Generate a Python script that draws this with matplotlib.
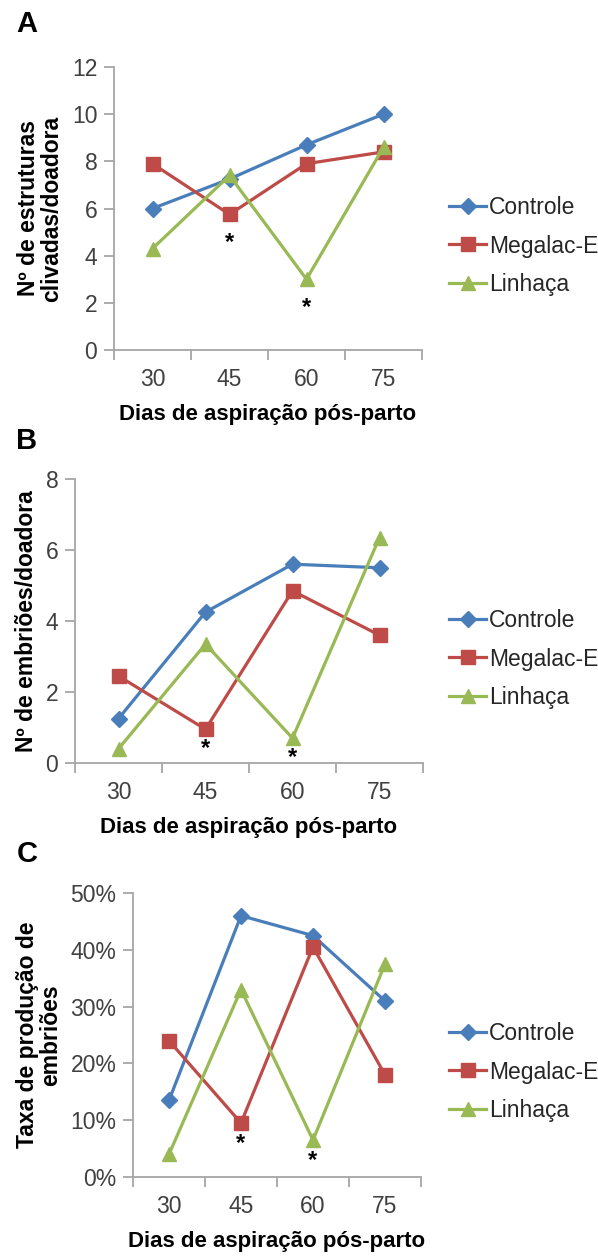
import matplotlib
matplotlib.use("Agg")
import matplotlib.pyplot as plt
from matplotlib.lines import Line2D
from matplotlib.ticker import FuncFormatter

plt.rcParams['font.family'] = ['Liberation Sans', 'DejaVu Sans']

dias = ["30", "45", "60", "75"]
grupos = ["Controle", "Megalac-E", "Linhaça"]
cores = ["#4A7EBB", "#BE4B48", "#98B954"]
marcadores = ["D", "s", "^"]
tam_marc = [8, 10, 10]

# A - estruturas clivadas por doadora
clivadas_controle = [6.0, 7.25, 8.7, 10.0]
clivadas_megalac = [7.9, 5.75, 7.9, 8.4]
clivadas_linhaca = [4.3, 7.4, 3.0, 8.6]

# B - embriões por doadora
embrioes_controle = [1.25, 4.25, 5.6, 5.5]
embrioes_megalac = [2.45, 0.95, 4.85, 3.6]
embrioes_linhaca = [0.4, 3.35, 0.7, 6.35]

# C - taxa de produção de embriões (%)
taxa_controle = [13.5, 46.0, 42.5, 31.0]
taxa_megalac = [24.0, 9.5, 40.5, 18.0]
taxa_linhaca = [4.0, 33.0, 6.5, 37.5]

# dias (índice) marcados com asterisco, abaixo do menor ponto
asteriscos = [1, 2]

W, H = 598, 1258

def caixa(x0, x1, ytop, ybot):
    # pixels -> fração da figura
    return [x0 / W, 1 - ybot / H, (x1 - x0) / W, (ybot - ytop) / H]

paineis = [
    dict(letra="A", pos=caixa(114, 422, 67, 350), y_letra=24,
         series=[clivadas_controle, clivadas_megalac, clivadas_linhaca],
         ylim=(0, 12), passo=2, ylabel="Nº de estruturas\nclivadas/doadora",
         pct=False, ylab_x=-0.165, leg_y=208, dist_ast=28),
    dict(letra="B", pos=caixa(75, 423, 479, 763), y_letra=441,
         series=[embrioes_controle, embrioes_megalac, embrioes_linhaca],
         ylim=(0, 8), passo=2, ylabel="Nº de embriões/doadora",
         pct=False, ylab_x=-0.105, leg_y=621, dist_ast=19),
    dict(letra="C", pos=caixa(133, 421, 893, 1177), y_letra=854,
         series=[taxa_controle, taxa_megalac, taxa_linhaca],
         ylim=(0, 50), passo=10, ylabel="Taxa de produção de\nembriões",
         pct=True, ylab_x=-0.245, leg_y=1034, dist_ast=20),
]

fig = plt.figure(figsize=(W / 100, H / 100), dpi=100)
cinza = "#A6A6A6"
texto = "#404040"

for p in paineis:
    ax = fig.add_axes(p["pos"])
    x = [i + 0.5 for i in range(len(dias))]
    for serie, cor, mk, ms, nome in zip(p["series"], cores, marcadores, tam_marc, grupos):
        ax.plot(x, serie, color=cor, marker=mk, markersize=ms,
                linewidth=2.3, label=nome, clip_on=False)
    for i in asteriscos:
        ymin = min(s[i] for s in p["series"])
        ax.annotate("*", (x[i], ymin), xytext=(0, -p["dist_ast"] * 0.72),
                    textcoords="offset points", ha="center", va="center",
                    fontsize=17, fontweight="bold")
    ax.set_xlim(0, len(dias))
    ax.set_ylim(*p["ylim"])
    ax.set_yticks(range(p["ylim"][0], p["ylim"][1] + 1, p["passo"]))
    if p["pct"]:
        ax.yaxis.set_major_formatter(FuncFormatter(lambda v, pos: "%d%%" % v))
    ax.set_xticks(range(len(dias) + 1))
    ax.set_xticklabels([])
    ax.set_xticks(x, minor=True)
    ax.set_xticklabels(dias, minor=True)
    ax.tick_params(axis="x", which="minor", length=0, pad=13, labelsize=16.5, labelcolor=texto)
    ax.tick_params(axis="x", which="major", length=7, color=cinza, width=1.3)
    ax.tick_params(axis="y", length=7, color=cinza, width=1.3, pad=5,
                   labelsize=16.5, labelcolor=texto)
    for lado in ["top", "right"]:
        ax.spines[lado].set_visible(False)
    for lado in ["left", "bottom"]:
        ax.spines[lado].set_color(cinza)
        ax.spines[lado].set_linewidth(1.3)
    ax.set_xlabel("Dias de aspiração pós-parto", fontsize=16, fontweight="bold", labelpad=9)
    ax.set_ylabel(p["ylabel"], fontsize=16.5, fontweight="bold", linespacing=1.0)
    ax.yaxis.set_label_coords(p["ylab_x"], 0.5)
    fig.text(27 / W, 1 - p["y_letra"] / H, p["letra"], fontsize=21, fontweight="bold",
             ha="center", va="center")

    handles = [Line2D([], [], color=c, marker=m, markersize=ms, linewidth=2.3)
               for c, m, ms in zip(cores, marcadores, tam_marc)]
    fig.legend(handles, grupos, loc="center left",
               bbox_to_anchor=(440 / W, 1 - (p["leg_y"] + 38) / H),
               frameon=False, fontsize=16.5, handlelength=1.6, handletextpad=0.15,
               labelspacing=0.68, labelcolor="#262626", borderaxespad=0)

fig.savefig("out.png", dpi=100)
